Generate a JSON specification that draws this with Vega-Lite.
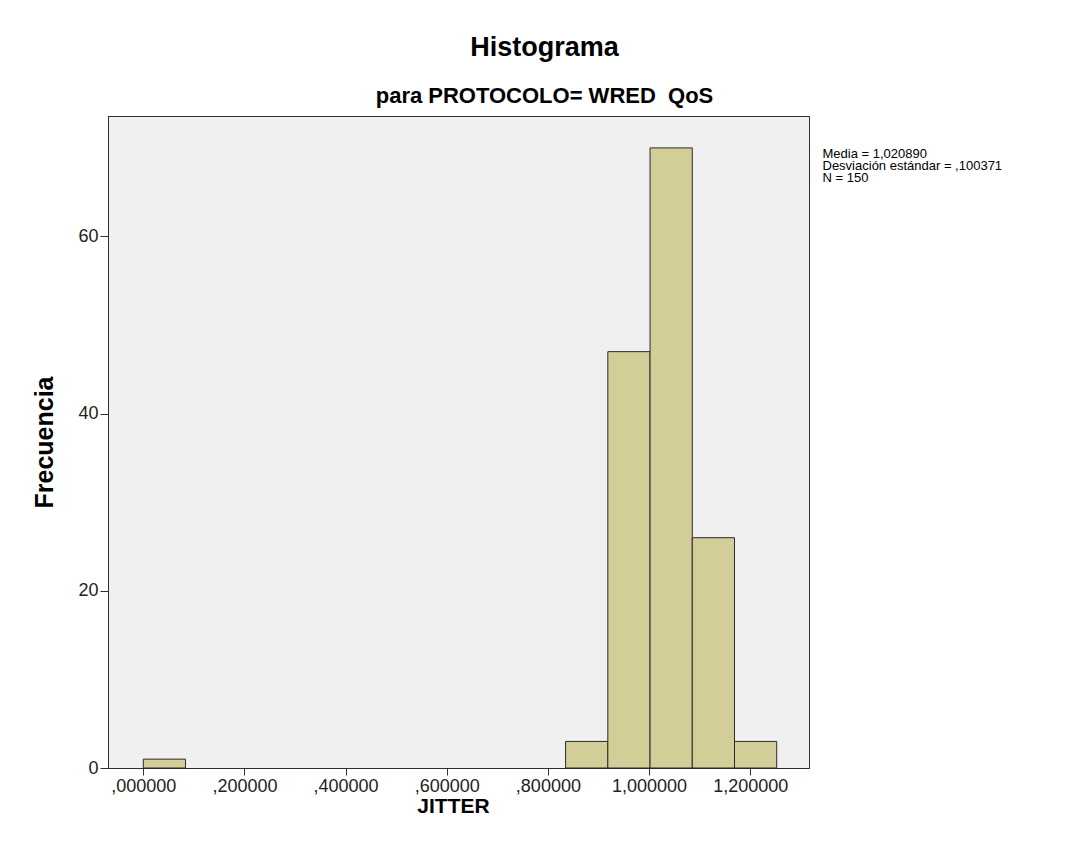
{
  "$schema": "https://vega.github.io/schema/vega-lite/v6.json",
  "width": 701,
  "height": 652,
  "autosize": "none",
  "padding": {"left": 108, "top": 116, "right": 262, "bottom": 95},
  "background": "white",
  "config": {
    "font": "Liberation Sans",
    "view": {"fill": "#f0f0f0", "stroke": "#2e2e2e", "strokeWidth": 1},
    "axis": {
      "grid": false,
      "domainColor": "#2e2e2e",
      "tickColor": "#2e2e2e",
      "labelColor": "#222222",
      "labelFontSize": 18,
      "titleColor": "#000000",
      "titleFontSize": 25,
      "titleFontWeight": "bold"
    }
  },
  "title": {
    "text": "Histograma",
    "subtitle": "para PROTOCOLO= WRED\u00a0 QoS",
    "anchor": "middle",
    "dx": 86,
    "offset": 8,
    "fontSize": 27,
    "fontWeight": "bold",
    "color": "#000000",
    "subtitleFontSize": 22,
    "subtitleFontWeight": "bold",
    "subtitleColor": "#000000",
    "subtitlePadding": 24
  },
  "datasets": {
    "bins": [
      {"bin_start": 0.0, "bin_end": 0.0835, "count": 1},
      {"bin_start": 0.835, "bin_end": 0.9185, "count": 3},
      {"bin_start": 0.9185, "bin_end": 1.002, "count": 47},
      {"bin_start": 1.002, "bin_end": 1.0855, "count": 70},
      {"bin_start": 1.0855, "bin_end": 1.169, "count": 26},
      {"bin_start": 1.169, "bin_end": 1.2525, "count": 3}
    ],
    "stats": [
      {"label": "Media = 1,020890\nDesviación estándar = ,100371\nN = 150"}
    ]
  },
  "layer": [
    {
      "data": {"name": "bins"},
      "mark": {"type": "bar", "fill": "#d3ce97", "stroke": "#2b2b2b", "strokeWidth": 1},
      "encoding": {
        "x": {
          "field": "bin_start",
          "type": "quantitative",
          "scale": {"domain": [-0.0698, 1.3163], "nice": false, "zero": false},
          "axis": {
            "title": "JITTER",
            "titleFontSize": 21,
            "titleX": 345,
            "values": [0, 0.2, 0.4, 0.6, 0.8, 1.0, 1.2],
            "labelExpr": "replace(slice(format(datum.value, '.6f'), datum.value < 1 ? 1 : 0), '.', ',')",
            "tickSize": 7,
            "labelPadding": 2,
            "titlePadding": 0
          }
        },
        "x2": {"field": "bin_end"},
        "y": {
          "field": "count",
          "type": "quantitative",
          "scale": {"domain": [0, 73.6], "nice": false},
          "axis": {
            "title": "Frecuencia",
            "values": [0, 20, 40, 60],
            "tickSize": 8,
            "labelPadding": 2,
            "titlePadding": 20
          }
        },
        "y2": {"datum": 0}
      }
    },
    {
      "data": {"name": "stats"},
      "mark": {"type": "text", "align": "left", "baseline": "top", "fontSize": 13, "lineHeight": 12, "lineBreak": "\n", "color": "#000000"},
      "encoding": {
        "x": {"datum": 1.343, "type": "quantitative"},
        "y": {"datum": 70.0, "type": "quantitative"},
        "text": {"field": "label"}
      }
    }
  ]
}
